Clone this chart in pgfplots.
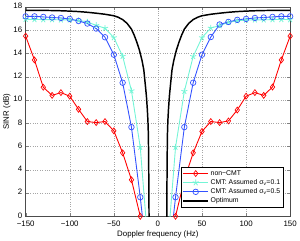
\documentclass[border=0pt]{standalone}
\usepackage{fontspec}
\setmainfont{Liberation Sans}
\usepackage{pgfplots}
\pgfplotsset{compat=1.18}
\definecolor{cmtone}{rgb}{0.45,0.96,0.84}
\definecolor{cmtfive}{rgb}{0.2,0.32,1}
\begin{document}
\begin{tikzpicture}
\begin{axis}[
  scale only axis,
  width=268bp, height=212bp,
  xmin=-150, xmax=150, ymin=0, ymax=18,
  xtick={-150,-100,-50,0,50,100,150},
  xticklabels={−150,−100,−50,0,50,100,150},
  ytick={0,2,...,18},
  /pgf/number format/assume math mode=true,
  tick label style={font=\fontsize{8}{9.6}\selectfont},
  xticklabel style={yshift=-1.2bp},
  yticklabel style={yshift=1bp},
  label style={font=\fontsize{8}{9.6}\selectfont},
  xlabel={Doppler frequency (Hz)},
  ylabel={SINR (dB)},
  xlabel style={yshift=3pt},
  ylabel style={yshift=-4pt},
  tick align=inside,
  major tick length=3bp,
  axis line style={black!70, line width=0.5pt},
  grid=major,
  major grid style={dotted, gray!70, line width=0.4pt},
  legend style={at={(0.974,0.042)}, anchor=south east, font=\fontsize{7}{8}\selectfont,
    draw=black, line width=0.5pt, fill=white, inner sep=1pt, row sep=-1.2pt,
    cells={anchor=west}},
  legend image code/.code={\draw[mark repeat=2,mark phase=2,#1] plot coordinates {(0cm,0cm) (0.44cm,0cm) (0.88cm,0cm)};},
]
% non-CMT
\addplot[red, line width=0.9pt, mark=diamond, mark size=3bp, mark options={solid, line width=0.7pt}, forget plot] coordinates {
(-150,15.5) (-140,13.45) (-130,11.1) (-120,10.4) (-110,10.64) (-100,10.33) (-90,9.2) (-80,8.15) (-70,8.06) (-60,8.15) (-50,7.35) (-40,5.46) (-30,3.14) (-20,0)};
\addplot[red, line width=0.9pt, mark=diamond, mark size=3bp, mark options={solid, line width=0.7pt}, forget plot] coordinates {
(20,0) (30,3.14) (40,5.46) (50,7.3) (60,8.15) (70,8.06) (80,8.2) (90,9.14) (100,10.33) (110,10.64) (120,10.4) (130,11.12) (140,13.45) (150,15.5)};
% CMT 0.1
\addplot[cmtone, line width=0.9pt, forget plot] coordinates {(-20,5.94) (-10,-3.6)};
\addplot[cmtone, line width=0.9pt, forget plot] coordinates {(20,5.94) (10,-3.6)};
\addplot[cmtone, line width=0.9pt, mark=star, mark size=3.2bp, mark options={solid, line width=0.8pt}, forget plot] coordinates {
(-150,16.95) (-140,16.93) (-130,16.92) (-120,16.92) (-110,16.9) (-100,16.9) (-90,16.85) (-80,16.72) (-70,16.42) (-60,16.18) (-50,15.37) (-40,13.77) (-30,10.8) (-20,5.94)};
\addplot[cmtone, line width=0.9pt, mark=star, mark size=3.2bp, mark options={solid, line width=0.8pt}, forget plot] coordinates {
(20,5.94) (30,10.75) (40,13.75) (50,15.37) (60,16.2) (70,16.4) (80,16.68) (90,16.82) (100,16.88) (110,16.9) (120,16.9) (130,16.92) (140,16.93) (150,16.92)};
% CMT 0.5
\addplot[cmtfive, line width=0.9pt, forget plot] coordinates {(-20,1.64) (-10,-5.2)};
\addplot[cmtfive, line width=0.9pt, forget plot] coordinates {(20,1.64) (10,-5.2)};
\addplot[cmtfive, line width=0.9pt, mark=o, mark size=2.8bp, mark options={solid, line width=0.7pt}, forget plot] coordinates {
(-150,17.2) (-140,17.2) (-130,17.15) (-120,17.1) (-110,17.06) (-100,16.98) (-90,16.8) (-80,16.58) (-70,16.15) (-60,15.4) (-50,13.9) (-40,11.49) (-30,7.67) (-20,1.64)};
\addplot[cmtfive, line width=0.9pt, mark=o, mark size=2.8bp, mark options={solid, line width=0.7pt}, forget plot] coordinates {
(20,1.64) (30,7.67) (40,11.49) (50,13.9) (60,15.42) (70,16.5) (80,16.72) (90,16.9) (100,16.98) (110,17.06) (120,17.1) (130,17.15) (140,17.2) (150,17.2)};
% Optimum
\addplot[black, line width=1.5pt, forget plot] coordinates {
(-150,17.72) (-140,17.72) (-130,17.71) (-120,17.7) (-110,17.68) (-100,17.65) (-90,17.61) (-80,17.55) (-70,17.47) (-60,17.38) (-50,17.25) (-45,17.12) (-40,16.92) (-35,16.6) (-30,16.1) (-27,15.6) (-24,15.0) (-21,14.3) (-18,13.4) (-16,12.6) (-14,11.1) (-13,10.3) (-12,9.2) (-11.3,8.2) (-10.8,7.0) (-10.5,5) (-10.2,2) (-10,-1)};
\addplot[black, line width=1.5pt, forget plot] coordinates {
(150,17.72) (140,17.72) (130,17.71) (120,17.7) (110,17.68) (100,17.65) (90,17.61) (80,17.55) (70,17.47) (60,17.38) (50,17.25) (45,17.12) (40,16.92) (35,16.6) (30,16.1) (27,15.6) (24,15.0) (21,14.3) (18,13.4) (16,12.6) (14,11.1) (13,10.3) (12,9.2) (11.3,8.2) (10.8,7.0) (10.5,5) (10.2,2) (10,-1)};
\addlegendimage{red, line width=0.9pt, mark=diamond, mark size=3bp, mark options={solid, line width=0.7pt}}
\addlegendentry{non−CMT}
\addlegendimage{cmtone, line width=0.9pt, mark=star, mark size=3.2bp, mark options={solid, line width=0.8pt}}
\addlegendentry{CMT: Assumed σ\textsubscript{v}=0.1}
\addlegendimage{cmtfive, line width=0.9pt, mark=o, mark size=2.8bp, mark options={solid, line width=0.7pt}}
\addlegendentry{CMT: Assumed σ\textsubscript{v}=0.5}
\addlegendimage{black, line width=1.5pt}
\addlegendentry{Optimum}
\end{axis}
\end{tikzpicture}
\end{document}
